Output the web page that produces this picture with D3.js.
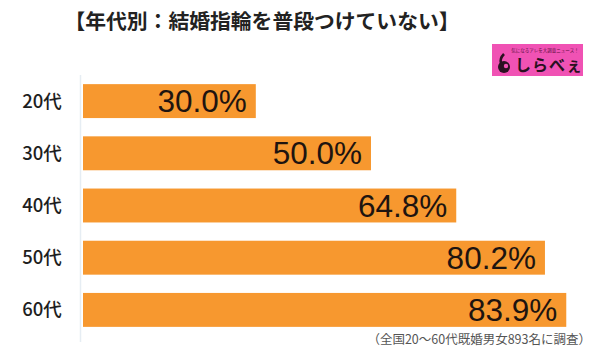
<!DOCTYPE html>
<html>
<head>
<meta charset="utf-8">
<script src="https://cdn.jsdelivr.net/npm/d3@7"></script>
<style>
  body { margin: 0; background: #fff; }
  svg { display: block; }
</style>
</head>
<body>
<div id="chart"></div>
<script>
// Data
const categories = ['20代', '30代', '40代', '50代', '60代']
const values = [30.0, 50.0, 64.8, 80.2, 83.9]
const title = '【年代別：結婚指輪を普段つけていない】'
const note = '（全国20〜60代既婚男女893名に調査）'

// Dimensions
let dimensions = {
  width: 600,
  height: 351,
  left: 83,
  top: 75,
  bottom: 336
}

const svg = d3.select('#chart')
  .append('svg')
    .attr('width', dimensions.width)
    .attr('height', dimensions.height)

// Scales
const xScale = d3.scaleLinear()
  .domain([0, 100])
  .range([dimensions.left, dimensions.left + 576])

const yScale = d3.scaleBand()
  .domain(categories)
  .range([dimensions.top, dimensions.bottom])
  .paddingInner(0.35)
  .paddingOuter(0.175)

// Title
svg.append('text')
  .attr('x', 262)
  .attr('y', 29)
  .attr('text-anchor', 'middle')
  .attr('font-family', '"Noto Sans CJK JP", sans-serif')
  .attr('font-weight', 700)
  .attr('font-size', 20.8)
  .attr('fill', '#222')
  .text(title)

// Logo
const logo = svg.append('g').attr('transform', 'translate(492, 44)')
logo.append('rect')
  .attr('width', 91)
  .attr('height', 32)
  .attr('fill', '#f052b4')
logo.append('text')
  .attr('x', 53)
  .attr('y', 8)
  .attr('text-anchor', 'middle')
  .attr('font-family', '"Noto Sans CJK JP", sans-serif')
  .attr('font-size', 4.5)
  .attr('fill', '#5a1040')
  .text('気になるアレを大調査ニュース！')
logo.append('circle')
  .attr('cx', 12)
  .attr('cy', 23)
  .attr('r', 6)
  .attr('fill', '#2a1020')
logo.append('path')
  .attr('d', 'M12,10 C9,13 8,16 9,19')
  .attr('stroke', '#2a1020')
  .attr('stroke-width', 2.5)
  .attr('fill', 'none')
logo.append('circle')
  .attr('cx', 14)
  .attr('cy', 22)
  .attr('r', 2.2)
  .attr('fill', '#f052b4')
logo.append('text')
  .attr('x', 23)
  .attr('y', 27)
  .attr('font-family', '"Noto Sans CJK JP", sans-serif')
  .attr('font-weight', 700)
  .attr('font-size', 16)
  .attr('letter-spacing', 1)
  .attr('fill', '#2a1020')
  .text('しらべぇ')

// axis line
svg.append('line')
  .attr('x1', xScale(0) - 2.5)
  .attr('x2', xScale(0) - 2.5)
  .attr('y1', dimensions.top)
  .attr('y2', 342)
  .attr('stroke', '#e6edf3')
  .attr('stroke-width', 1.5)

// Bars
svg.selectAll('rect.bar')
  .data(values)
  .join('rect')
  .attr('class', 'bar')
  .attr('x', xScale(0))
  .attr('y', (d, i) => yScale(categories[i]))
  .attr('width', d => xScale(d) - xScale(0))
  .attr('height', yScale.bandwidth())
  .attr('fill', '#f7982f')

// Value labels
svg.selectAll('text.val')
  .data(values)
  .join('text')
  .attr('class', 'val')
  .attr('x', d => xScale(d) - 9)
  .attr('y', (d, i) => yScale(categories[i]) + yScale.bandwidth() / 2 + 11)
  .attr('text-anchor', 'end')
  .attr('font-family', '"Liberation Sans", Arial, sans-serif')
  .attr('font-size', 31.5)
  .attr('fill', '#1e1410')
  .text(d => d.toFixed(1) + '%')

// Category labels
svg.selectAll('text.cat')
  .data(categories)
  .join('text')
  .attr('class', 'cat')
  .attr('x', 42)
  .attr('y', d => yScale(d) + yScale.bandwidth() / 2 + 6.5)
  .attr('text-anchor', 'middle')
  .attr('font-family', '"Noto Sans CJK JP", sans-serif')
  .attr('font-weight', 500)
  .attr('font-size', 18.5)
  .attr('fill', '#1e1e1e')
  .text(d => d)

// Note
svg.append('text')
  .attr('x', 591)
  .attr('y', 344)
  .attr('text-anchor', 'end')
  .attr('font-family', '"Noto Sans CJK JP", sans-serif')
  .attr('font-size', 12.5)
  .attr('fill', '#555')
  .text(note)
</script>
</body>
</html>
